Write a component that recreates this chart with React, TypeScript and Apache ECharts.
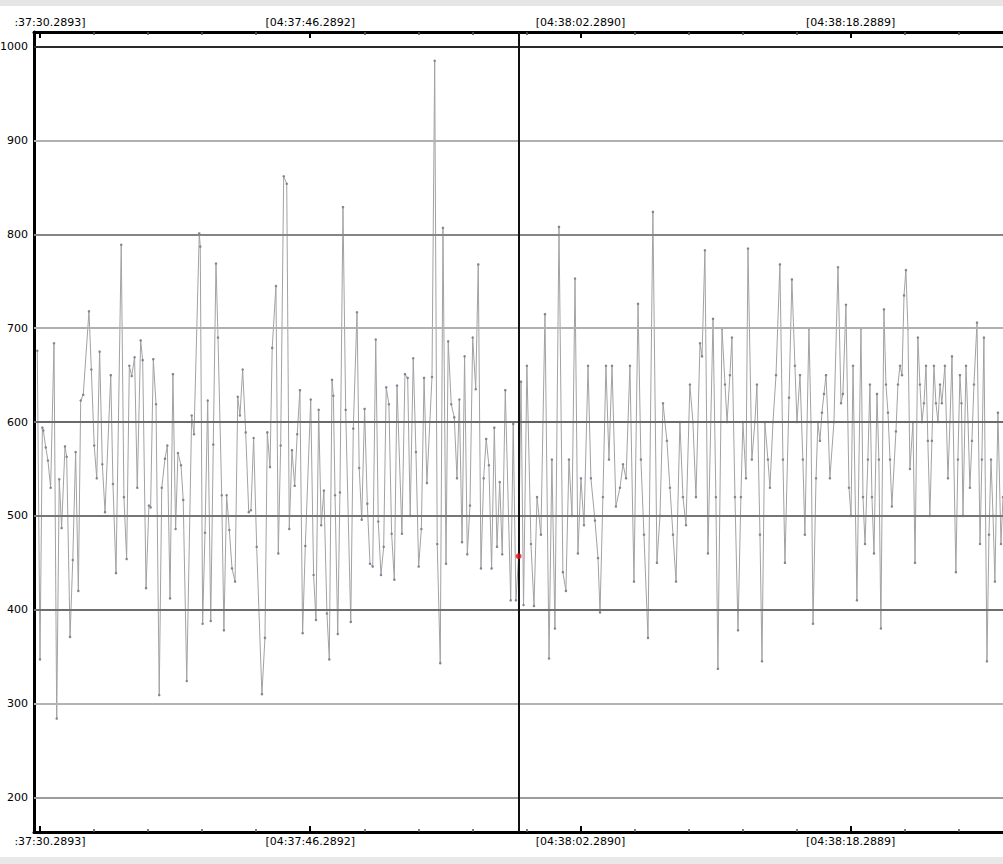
import React, { useEffect, useRef } from "react";
import * as echarts from "echarts";

// seconds after 04:37:30.2893
const times = [
  -0.16, 0.0, 0.14, 0.2, 0.34, 0.47, 0.63, 0.83, 0.99, 1.14, 1.28, 1.48, 1.58, 1.78, 1.94, 2.11, 2.27, 2.41, 2.56, 2.9,
  3.04, 3.21, 3.36, 3.53, 3.69, 3.85, 4.19, 4.32, 4.5, 4.81, 4.97, 5.13, 5.29, 5.43, 5.6, 5.76, 5.96, 6.08, 6.28, 6.45,
  6.55, 6.71, 6.87, 7.06, 7.21, 7.4, 7.54, 7.7, 7.87, 8.03, 8.17, 8.35, 8.48, 8.69, 8.98, 9.12, 9.43, 9.49, 9.63, 9.77,
  9.93, 10.11, 10.26, 10.42, 10.54, 10.76, 10.89, 11.05, 11.21, 11.37, 11.55, 11.71, 11.84, 12.0, 12.18, 12.36, 12.49, 12.65, 12.83, 13.14,
  13.32, 13.46, 13.62, 13.75, 13.97, 14.11, 14.25, 14.43, 14.61, 14.76, 14.92, 15.08, 15.23, 15.39, 15.55, 15.71, 16.03, 16.2, 16.34, 16.5,
  16.65, 16.81, 16.99, 17.13, 17.29, 17.37, 17.47, 17.63, 17.76, 17.94, 18.1, 18.4, 18.55, 18.77, 18.9, 19.05, 19.22, 19.38, 19.54, 19.7,
  19.88, 20.03, 20.19, 20.35, 20.5, 20.66, 20.82, 20.98, 21.14, 21.43, 21.61, 21.77, 21.92, 22.1, 22.26, 22.42, 22.58, 22.74, 22.91, 23.21,
  23.37, 23.52, 23.7, 23.86, 24.04, 24.17, 24.35, 24.53, 24.69, 24.83, 24.99, 25.14, 25.3, 25.46, 25.62, 25.8, 25.95, 26.11, 26.27, 26.42,
  26.58, 26.74, 26.9, 27.06, 27.22, 27.37, 27.55, 27.87, 28.02, 28.18, 28.34,
  28.48, 28.63, 28.83, 29.07, 29.25, 29.43, 29.66, 29.9, 30.14, 30.31, 30.49, 30.73, 30.96, 31.14, 31.32, 31.5, 31.68, 31.85, 32.03, 32.21,
  32.45, 32.62, 32.86, 33.04, 33.16, 33.33, 33.51, 33.69, 33.87, 34.1, 34.34, 34.52, 34.7, 34.93, 35.17, 35.41, 35.58, 35.76, 36.0, 36.29,
  36.53, 36.71, 36.89, 37.12, 37.3, 37.48, 37.66, 37.89, 38.07, 38.25, 38.48, 38.66, 38.84, 39.08, 39.2, 39.37, 39.55, 39.85, 40.02, 40.14,
  40.38, 40.56, 40.68, 40.85, 40.97, 41.15, 41.33, 41.5, 41.62, 41.8, 41.92, 42.15, 42.33, 42.45, 42.63, 42.75, 42.92, 43.1, 43.22, 43.4,
  43.58, 43.81, 43.99, 44.11, 44.35, 44.52, 44.7, 44.82, 45.0, 45.17, 45.29, 45.53, 45.65, 45.77, 45.95, 46.06, 46.18, 46.3, 46.42, 46.54,
  46.66, 46.77, 47.01, 47.25, 47.43, 47.54, 47.72, 47.9, 48.02, 48.14, 48.37, 48.61, 48.73, 48.85, 49.02, 49.14, 49.26, 49.38, 49.56, 49.67,
  49.79, 49.97, 50.09, 50.21, 50.33, 50.44, 50.68, 50.8, 50.92, 51.04, 51.16, 51.27, 51.39, 51.51, 51.69, 51.81, 51.98, 52.1, 52.22, 52.34,
  52.46, 52.57, 52.69, 52.81, 52.93, 53.05, 53.17, 53.29, 53.4, 53.58, 53.76, 53.88, 54.0, 54.23, 54.35, 54.47, 54.56, 54.65, 54.83, 54.95,
  55.06, 55.18, 55.3, 55.48, 55.66, 55.77, 55.89, 56.07, 56.19, 56.31, 56.43, 56.54, 56.72, 56.9, 57.02,
];

const values = [
  676, 347, 594, 591, 573, 559, 530, 684, 284, 539, 487, 574, 563, 371, 453, 568, 420, 623, 629, 718,
  656, 575, 540, 675, 555, 504, 650, 534, 439, 789, 520, 454, 660, 649, 669, 530, 687, 666, 423, 511,
  509, 667, 619, 309, 530, 561, 575, 412, 651, 486, 567, 554, 517, 324, 607, 587, 801, 787, 385, 482,
  623, 388, 576, 769, 690, 522, 378, 522, 485, 444, 430, 627, 607, 656, 589, 504, 506, 583, 467, 310,
  370, 589, 552, 679, 745, 460, 575, 862, 854, 486, 570, 532, 587, 634, 375, 468, 624, 437, 389, 613,
  490, 527, 396, 347, 645, 628, 522, 374, 525, 829, 613, 387, 593, 717, 551, 496, 614, 513, 449, 446,
  688, 494, 437, 467, 637, 619, 481, 432, 639, 481, 651, 647, 500, 668, 568, 446, 486, 647, 535, 648,
  985, 470, 343, 807, 449, 686, 619, 605, 540, 624, 472, 670, 459, 511, 690, 635, 768, 444, 540, 582,
  554, 444, 594, 467, 536, 459, 634, 410, 598, 410, 457,
  643, 405, 660, 470, 404, 520, 480, 715, 348, 560, 380, 808, 440, 420, 560, 500, 753, 460, 540, 490,
  660, 540, 495, 455, 397, 520, 660, 560, 660, 510, 530, 555, 540, 660, 430, 726, 560, 480, 370, 824,
  450, 500, 620, 580, 530, 480, 430, 600, 520, 490, 640, 600, 520, 684, 670, 783, 460, 710, 520, 337,
  700, 640, 600, 650, 690, 520, 378, 520, 600, 540, 785, 560, 600, 640, 480, 345, 600, 560, 530, 600,
  650, 768, 560, 450, 626, 752, 660, 600, 650, 560, 480, 700, 600, 385, 540, 600, 580, 610, 630, 650,
  600, 540, 600, 765, 620, 630, 725, 530, 500, 660, 410, 700, 520, 470, 560, 640, 520, 460, 630, 560,
  380, 720, 640, 610, 560, 510, 590, 640, 660, 650, 735, 762, 700, 550, 600, 450, 690, 640, 600, 620,
  660, 580, 500, 580, 660, 620, 600, 640, 620, 660, 540, 600, 670, 440, 560, 650, 620, 500, 660, 600,
  530, 580, 640, 706, 470, 560, 690, 345, 480, 560, 500, 430, 610, 470, 520,
];

const cursorTime = 28.34;
const cursorValue = 457;

const majorTicks = [0, 16, 32, 48];
const majorLabels = [":37:30.2893]", "[04:37:46.2892]", "[04:38:02.2890]", "[04:38:18.2889]"];
const minorTicks = [3.2, 6.4, 9.6, 12.8, 19.2, 22.4, 25.6, 28.8, 35.2, 38.4, 41.6, 44.8, 51.2, 54.4];
const yTicks = [200, 300, 400, 500, 600, 700, 800, 900, 1000];
const gridColors = ["#9c9c9c", "#b4b4b4", "#6e6e6e", "#767676", "#6a6a6a", "#b0b0b0", "#858585", "#b0b0b0", "#2a2a2a"];

const FONT = "DejaVu Sans";

export default function App() {
  const ref = useRef<HTMLDivElement>(null);

  useEffect(() => {
    if (!ref.current) return;
    const chart = echarts.init(ref.current, null, { renderer: "svg" });
    const xMin = -0.355;
    const xMax = 57.02;

    const labelFormatter = (v: number) => {
      const i = majorTicks.findIndex((t) => Math.abs(t - v) < 1e-6);
      if (i < 0) return "";
      if (i === 0) return "{f|" + majorLabels[0] + "}";
      return majorLabels[i];
    };

    const majorAxis = (position: "top" | "bottom") => ({
      type: "value",
      position,
      min: xMin,
      max: xMax,
      axisLine: { show: true, onZero: false, lineStyle: { color: "#000", width: 3 } },
      axisTick: {
        show: true,
        inside: true,
        length: 6,
        customValues: majorTicks,
        lineStyle: { color: "#000", width: 2 },
      },
      axisLabel: {
        show: true,
        customValues: majorTicks,
        margin: 4,
        color: "#000",
        fontFamily: FONT,
        fontSize: 11,
        formatter: labelFormatter,
        rich: {
          f: { padding: [0, 0, 0, 20], color: "#000", fontFamily: FONT, fontSize: 11 },
        },
      },
      splitLine: { show: false },
    });

    const minorAxis = (position: "top" | "bottom") => ({
      type: "value",
      position,
      min: xMin,
      max: xMax,
      axisLine: { show: false, onZero: false },
      axisTick: {
        show: true,
        inside: true,
        length: 3,
        customValues: minorTicks,
        lineStyle: { color: "#555", width: 1.5 },
      },
      axisLabel: { show: false },
      splitLine: { show: false },
    });

    chart.setOption({
      animation: false,
      backgroundColor: "#ffffff",
      grid: { left: 34, right: 0, top: 32, bottom: 32, containLabel: false, outerBoundsMode: "none" },
      xAxis: [majorAxis("bottom"), majorAxis("top"), minorAxis("bottom"), minorAxis("top")],
      yAxis: {
        type: "value",
        min: 163.1,
        max: 1015.7,
        axisLine: { show: true, onZero: false, lineStyle: { color: "#000", width: 3 } },
        axisTick: { show: false },
        splitLine: { show: false },
        axisLabel: {
          show: true,
          customValues: yTicks,
          margin: 6,
          color: "#000",
          fontFamily: FONT,
          fontSize: 11,
          formatter: (v: number) => String(v),
        },
      },
      graphic: [
        { type: "rect", left: 0, top: 0, shape: { width: 1003, height: 6 }, style: { fill: "#e6e6e6" }, silent: true },
        { type: "rect", left: 0, top: 857, shape: { width: 1003, height: 7 }, style: { fill: "#e8e8e8" }, silent: true },
      ],
      series: [
        {
          type: "line",
          name: "grid",
          data: [],
          z: 1,
          silent: true,
          markLine: {
            silent: true,
            symbol: ["none", "none"],
            label: { show: false },
            data: yTicks.map((v, i) => ({
              yAxis: v,
              lineStyle: { color: gridColors[i], width: 2, type: "solid" },
            })),
          },
        },
        {
          type: "line",
          name: "signal",
          xAxisIndex: 0,
          data: times.map((t, i) => [t, values[i]]),
          z: 3,
          clip: true,
          showSymbol: true,
          showAllSymbol: true,
          symbol: "circle",
          symbolSize: 2.5,
          lineStyle: { color: "#a2a2a2", width: 1 },
          itemStyle: { color: "#7d8596" },
          markLine: {
            silent: true,
            symbol: ["none", "none"],
            label: { show: false },
            data: [{ xAxis: cursorTime, lineStyle: { color: "#111", width: 2, type: "solid" } }],
          },
        },
        {
          type: "scatter",
          name: "cursor",
          data: [[cursorTime, cursorValue]],
          symbol: "circle",
          symbolSize: 6,
          z: 5,
          itemStyle: { color: "#e3141c" },
        },
      ],
    });
    return () => chart.dispose();
  }, []);

  return (
    <div
      ref={ref}
      style={{ position: "fixed", left: 0, top: 0, width: 1003, height: 864, background: "#fff" }}
    />
  );
}
